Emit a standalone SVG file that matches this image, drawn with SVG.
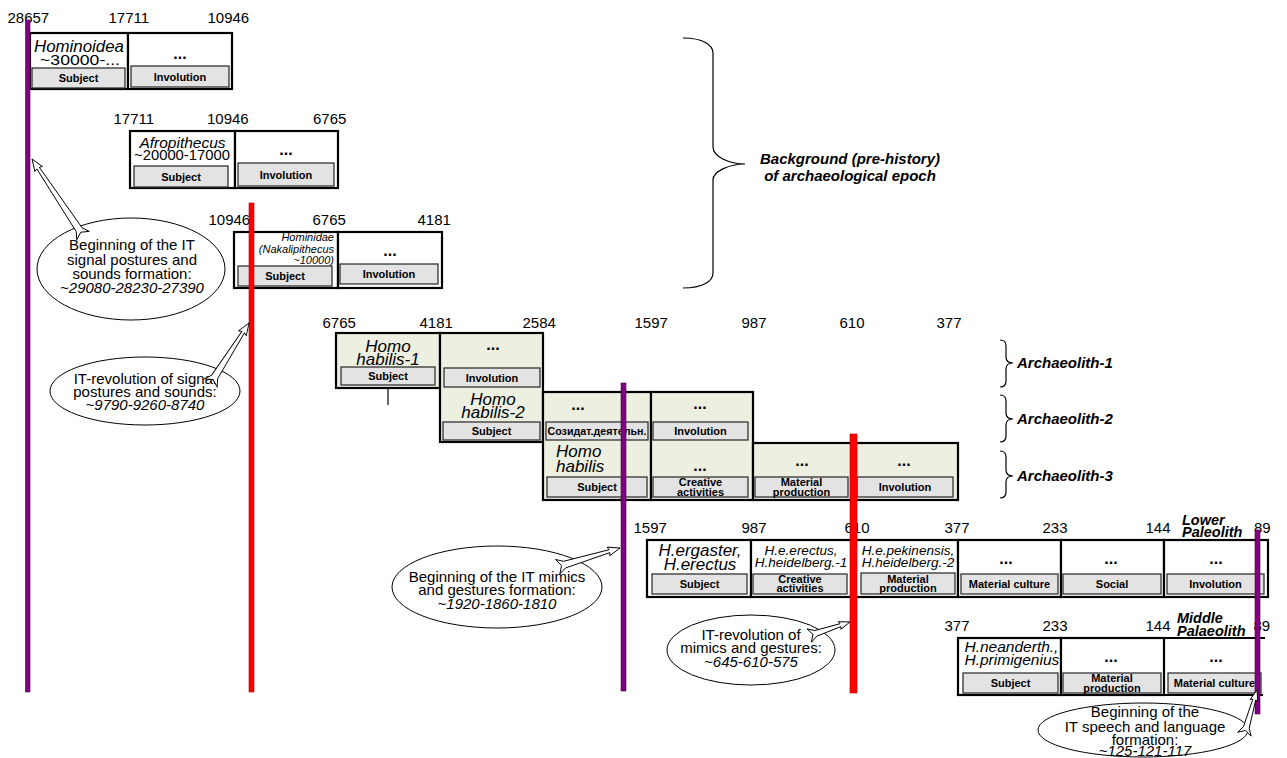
<svg xmlns="http://www.w3.org/2000/svg" width="1287" height="758" viewBox="0 0 1287 758">
<style>
text{font-family:"Liberation Sans",Arial,sans-serif;fill:#000}
.lbl{font-size:15px}
.ob{fill:#fff;stroke:#000;stroke-width:2.2}
.og{fill:#edefe1;stroke:#000;stroke-width:2.2}
.ib{fill:#e3e3e3;stroke:#333;stroke-width:1.3}
.it{font-size:11px;font-weight:bold;text-anchor:middle}
.dots{font-size:16px;font-weight:bold;text-anchor:middle}
.nm{font-style:italic;text-anchor:middle}
.bi{font-size:15px;font-weight:bold;font-style:italic}
.bs{font-size:14.5px;font-weight:bold;font-style:italic}
.el{fill:#fff;stroke:#000;stroke-width:1}
.ct{font-size:15px;text-anchor:middle}
.tail{fill:#fff;stroke:#000;stroke-width:0.9}
.brace{fill:none;stroke:#000;stroke-width:1.2}
.pl{fill:#800080;stroke:#4a004a;stroke-width:0.6}
.rl{fill:#f00;stroke:#b00;stroke-width:0.6}
</style>

<g id="scale-labels" class="lbl">
<text x="7.5" y="23">28657</text><text x="108.5" y="23">17711</text><text x="207.5" y="23">10946</text>
<text x="113.5" y="124">17711</text><text x="207" y="124">10946</text><text x="313" y="124">6765</text>
<text x="208.5" y="225">10946</text><text x="312.5" y="225">6765</text><text x="417.5" y="225">4181</text>
<text x="322.5" y="328">6765</text><text x="419.5" y="328">4181</text><text x="522.5" y="328">2584</text><text x="634.5" y="328">1597</text><text x="741.5" y="328">987</text><text x="839.5" y="328">610</text><text x="936.5" y="328">377</text>
<text x="633.5" y="533">1597</text><text x="741.5" y="533">987</text><text x="844.5" y="533">610</text><text x="944.5" y="533">377</text><text x="1042.5" y="533">233</text><text x="1145.5" y="533">144</text><text x="1254" y="533">89</text>
<text x="944.5" y="631">377</text><text x="1042.5" y="631">233</text><text x="1145.5" y="631">144</text><text x="1253.5" y="631">89</text>
</g>

<g id="hominoidea">
<rect class="ob" x="30" y="33" width="98" height="56"/>
<rect class="ob" x="128" y="33" width="104" height="56"/>
<text class="nm" x="79" y="52" font-size="16" textLength="90" lengthAdjust="spacingAndGlyphs">Hominoidea</text>
<text x="80" y="65" font-size="15.5" text-anchor="middle" textLength="80" lengthAdjust="spacingAndGlyphs">~30000-...</text>
<rect class="ib" x="32" y="68" width="93" height="20"/>
<text class="it" x="78.5" y="82">Subject</text>
<text class="dots" x="180" y="59">...</text>
<rect class="ib" x="131" y="66" width="98" height="21"/>
<text class="it" x="180" y="80.5">Involution</text>
</g>

<g id="afropithecus">
<rect class="ob" x="130" y="131" width="105" height="57"/>
<rect class="ob" x="235" y="131" width="103" height="57"/>
<text class="nm" x="182.5" y="148" font-size="15.5">Afropithecus</text>
<text x="182" y="160" font-size="15.5" text-anchor="middle" textLength="96" lengthAdjust="spacingAndGlyphs">~20000-17000</text>
<rect class="ib" x="134" y="166" width="94" height="21"/>
<text class="it" x="181" y="180.5">Subject</text>
<text class="dots" x="286" y="155">...</text>
<rect class="ib" x="238" y="163" width="96" height="23"/>
<text class="it" x="286" y="178.5">Involution</text>
</g>

<g id="hominidae">
<rect class="ob" x="234" y="232" width="104" height="56"/>
<rect class="ob" x="338" y="232" width="104" height="56"/>
<text font-size="11" font-style="italic" text-anchor="end" x="334" y="241">Hominidae</text>
<text font-size="11" font-style="italic" text-anchor="end" x="334" y="253">(Nakalipithecus</text>
<text font-size="11" font-style="italic" text-anchor="end" x="334" y="264">~10000)</text>
<rect class="ib" x="238" y="266" width="94" height="20"/>
<text class="it" x="285" y="280">Subject</text>
<text class="dots" x="390" y="256">...</text>
<rect class="ib" x="340" y="264" width="98" height="20"/>
<text class="it" x="389" y="278">Involution</text>
</g>

<g id="archaeolith">
<g id="homo-habilis-1">
<rect class="og" x="336" y="333" width="104" height="55"/>
<text class="nm" x="388" y="352" font-size="17">Homo</text>
<text class="nm" x="388" y="365" font-size="17">habilis-1</text>
<rect class="ib" x="341" y="367" width="94" height="18"/>
<text class="it" x="388" y="380">Subject</text>
<line x1="388" y1="388" x2="388" y2="405" stroke="#000" stroke-width="1.2"/>
</g>
<g id="homo-habilis-2">
<rect class="og" x="440" y="333" width="103" height="109"/>
<text class="dots" x="493" y="350">...</text>
<rect class="ib" x="444" y="368" width="96" height="19"/>
<text class="it" x="492" y="381.5">Involution</text>
<text class="nm" x="493" y="405" font-size="17">Homo</text>
<text class="nm" x="493" y="418" font-size="17">habilis-2</text>
<rect class="ib" x="443" y="422" width="97" height="18"/>
<text class="it" x="491.5" y="435">Subject</text>
</g>
<g id="homo-habilis">
<rect class="og" x="543" y="392" width="108" height="108"/>
<text class="dots" x="578" y="410">...</text>
<rect class="ib" x="546" y="422" width="102" height="18"/>
<text class="it" x="597" y="435" textLength="99" lengthAdjust="spacingAndGlyphs">Созидат.деятельн.</text>
<text font-style="italic" font-size="17" x="556" y="457">Homo</text>
<text font-style="italic" font-size="17" x="556" y="472">habilis</text>
<rect class="ib" x="547" y="477" width="100" height="20"/>
<text class="it" x="597" y="491">Subject</text>
</g>
<g id="arch-col-d">
<rect class="og" x="651" y="392" width="102" height="108"/>
<text class="dots" x="700" y="409">...</text>
<rect class="ib" x="653" y="422" width="95" height="18"/>
<text class="it" x="700.5" y="435">Involution</text>
<text class="dots" x="700" y="471">...</text>
<rect class="ib" x="653" y="477" width="95" height="20"/>
<text class="it" x="700.5" y="486">Creative</text>
<text class="it" x="700.5" y="495.5">activities</text>
</g>
<g id="arch-col-e">
<rect class="og" x="753" y="443" width="100" height="57"/>
<text class="dots" x="802" y="466">...</text>
<rect class="ib" x="755" y="477" width="93" height="20"/>
<text class="it" x="801.5" y="486">Material</text>
<text class="it" x="801.5" y="495.5">production</text>
</g>
<g id="arch-col-f">
<rect class="og" x="853" y="443" width="105" height="57"/>
<text class="dots" x="904" y="466">...</text>
<rect class="ib" x="857" y="477" width="96" height="20"/>
<text class="it" x="905" y="491">Involution</text>
</g>
</g>

<g id="lower-paleolith">
<rect class="ob" x="647" y="540" width="104" height="57"/>
<rect class="ob" x="751" y="540" width="102" height="57"/>
<rect class="ob" x="853" y="540" width="105" height="57"/>
<rect class="ob" x="958" y="540" width="103" height="57"/>
<rect class="ob" x="1061" y="540" width="103" height="57"/>
<rect class="ob" x="1164" y="540" width="104" height="57"/>
<text class="nm" x="700" y="556" font-size="17">H.ergaster,</text>
<text class="nm" x="700" y="570" font-size="17">H.erectus</text>
<rect class="ib" x="652" y="574" width="95" height="20"/>
<text class="it" x="699.5" y="588">Subject</text>
<text class="nm" x="801" y="555" font-size="13.5">H.e.erectus,</text>
<text class="nm" x="801" y="567" font-size="13.5">H.heidelberg.-1</text>
<rect class="ib" x="753" y="574" width="94" height="20"/>
<text class="it" x="800" y="582.5">Creative</text>
<text class="it" x="800" y="592">activities</text>
<text class="nm" x="908" y="555" font-size="13.5">H.e.pekinensis,</text>
<text class="nm" x="908" y="567" font-size="13.5">H.heidelberg.-2</text>
<rect class="ib" x="861" y="573" width="94" height="21"/>
<text class="it" x="908" y="582.5">Material</text>
<text class="it" x="908" y="592">production</text>
<text class="dots" x="1006" y="564">...</text>
<rect class="ib" x="961" y="574" width="97" height="20"/>
<text class="it" x="1009.5" y="588">Material culture</text>
<text class="dots" x="1111" y="564">...</text>
<rect class="ib" x="1063" y="574" width="98" height="20"/>
<text class="it" x="1112" y="588">Social</text>
<text class="dots" x="1216" y="564">...</text>
<rect class="ib" x="1167" y="574" width="97" height="20"/>
<text class="it" x="1215.5" y="588">Involution</text>
<text class="bs" x="1182" y="524.5">Lower</text>
<text class="bs" x="1182" y="537">Paleolith</text>
</g>

<g id="middle-palaeolith">
<rect class="ob" x="958" y="638" width="103" height="57"/>
<rect class="ob" x="1061" y="638" width="103" height="57"/>
<path d="M1164,638 H1265 M1164,695 H1263" fill="none" stroke="#000" stroke-width="2.2"/>
<text font-style="italic" font-size="15.5" x="964.5" y="652">H.neanderth.,</text>
<text font-style="italic" font-size="15.5" x="964.5" y="665">H.primigenius</text>
<rect class="ib" x="963" y="673" width="95" height="20"/>
<text class="it" x="1010.5" y="687">Subject</text>
<text class="dots" x="1111" y="662">...</text>
<rect class="ib" x="1063" y="673" width="98" height="20"/>
<text class="it" x="1112" y="682">Material</text>
<text class="it" x="1112" y="691.5">production</text>
<text class="dots" x="1216" y="662">...</text>
<rect class="ib" x="1168" y="673" width="93" height="20"/>
<text class="it" x="1214.5" y="687">Material culture</text>
<text class="bs" x="1177" y="622.5">Middle</text>
<text class="bs" x="1177" y="636">Palaeolith</text>
</g>

<g id="braces">
<path class="brace" d="M683,38 C703,38 713,45 713,53 L713,147 C713,157 730,164 745,164 C730,164 713,171 713,180 L713,273 C713,281 703,288 683,288"/>
<text class="bi" x="850" y="164" text-anchor="middle">Background (pre-history)</text>
<text class="bi" x="850" y="181" text-anchor="middle">of archaeological epoch</text>
<path class="brace" d="M1000,340 C1004,340 1006,342 1006,346 L1006,357 C1006,361 1009,363 1013,363 C1009,363 1006,365 1006,369 L1006,381 C1006,385 1004,387 1000,387"/>
<text class="bi" x="1017" y="368">Archaeolith-1</text>
<path class="brace" d="M1000,395 C1004,395 1006,397 1006,401 L1006,413 C1006,417 1009,419 1013,419 C1009,419 1006,421 1006,425 L1006,436 C1006,440 1004,442 1000,442"/>
<text class="bi" x="1017" y="424">Archaeolith-2</text>
<path class="brace" d="M1000,451 C1004,451 1006,453 1006,457 L1006,470 C1006,474 1009,476 1013,476 C1009,476 1006,478 1006,482 L1006,492 C1006,496 1004,498 1000,498"/>
<text class="bi" x="1017" y="481">Archaeolith-3</text>
</g>

<g id="timelines">
<rect class="pl" x="25.5" y="20" width="4.5" height="672"/>
<rect class="rl" x="249" y="203" width="5" height="489"/>
<rect class="pl" x="621" y="383" width="5" height="308"/>
<rect class="rl" x="850" y="434" width="7" height="259"/>
<rect class="pl" x="1255" y="530" width="5" height="184"/>
</g>

<g id="callout-1">
<ellipse class="el" cx="131" cy="269" rx="94" ry="51"/>
<text class="ct" x="132" y="250">Beginning of the IT</text>
<text class="ct" x="132" y="264.5">signal postures and</text>
<text class="ct" x="132" y="279">sounds formation:</text>
<text class="ct" x="132" y="293" font-style="italic">~29080-28230-27390</text>
</g>
<g id="callout-2">
<ellipse class="el" cx="145" cy="391" rx="95" ry="34"/>
<text class="ct" x="145" y="384">IT-revolution of signal</text>
<text class="ct" x="145" y="397">postures and sounds:</text>
<text class="ct" x="145" y="410" font-style="italic">~9790-9260-8740</text>
</g>
<g id="callout-3">
<ellipse class="el" cx="497" cy="587" rx="105" ry="41"/>
<text class="ct" x="497" y="582">Beginning of the IT mimics</text>
<text class="ct" x="497" y="595">and gestures formation:</text>
<text class="ct" x="497" y="609" font-style="italic">~1920-1860-1810</text>
</g>
<g id="callout-4">
<ellipse class="el" cx="751" cy="650" rx="84" ry="35"/>
<text class="ct" x="751" y="640">IT-revolution of</text>
<text class="ct" x="751" y="653">mimics and gestures:</text>
<text class="ct" x="751" y="667" font-style="italic">~645-610-575</text>
</g>
<g id="callout-5">
<ellipse class="el" cx="1143" cy="730" rx="105" ry="27"/>
<text class="ct" x="1145" y="717">Beginning of the</text>
<text class="ct" x="1145" y="732">IT speech and language</text>
<text class="ct" x="1145" y="745">formation:</text>
<text class="ct" x="1145" y="756" font-style="italic">~125-121-117</text>
</g>

<g id="connectors">
<polygon class="tail" transform="translate(32,159) rotate(56.3)" points="0,0 12,-4.5 11,-1.5 85,-3.5 92,-7.5 88,0 92,7.5 85,3.5 11,1.5 12,4.5"/>
<polygon class="tail" transform="translate(249,323) rotate(122.5)" points="0,0 12,-4.5 11,-1.5 64,-3.5 71,-7.5 67,0 71,7.5 64,3.5 11,1.5 12,4.5"/>
<polygon class="tail" transform="translate(620,548) rotate(163.3)" points="0,0 12,-4.5 11,-1.5 58,-3.5 65,-7.5 61,0 65,7.5 58,3.5 11,1.5 12,4.5"/>
<polygon class="tail" transform="translate(850,622) rotate(161.6)" points="0,0 11,-4 10,-1.5 36,-3 43,-7 39,0 43,7 36,3 10,1.5 11,4"/>
<polygon class="tail" transform="translate(1257,690) rotate(105.9)" points="0,0 11,-4 10,-1.5 39,-3 46,-7 42,0 46,7 39,3 10,1.5 11,4"/>
</g>
</svg>
